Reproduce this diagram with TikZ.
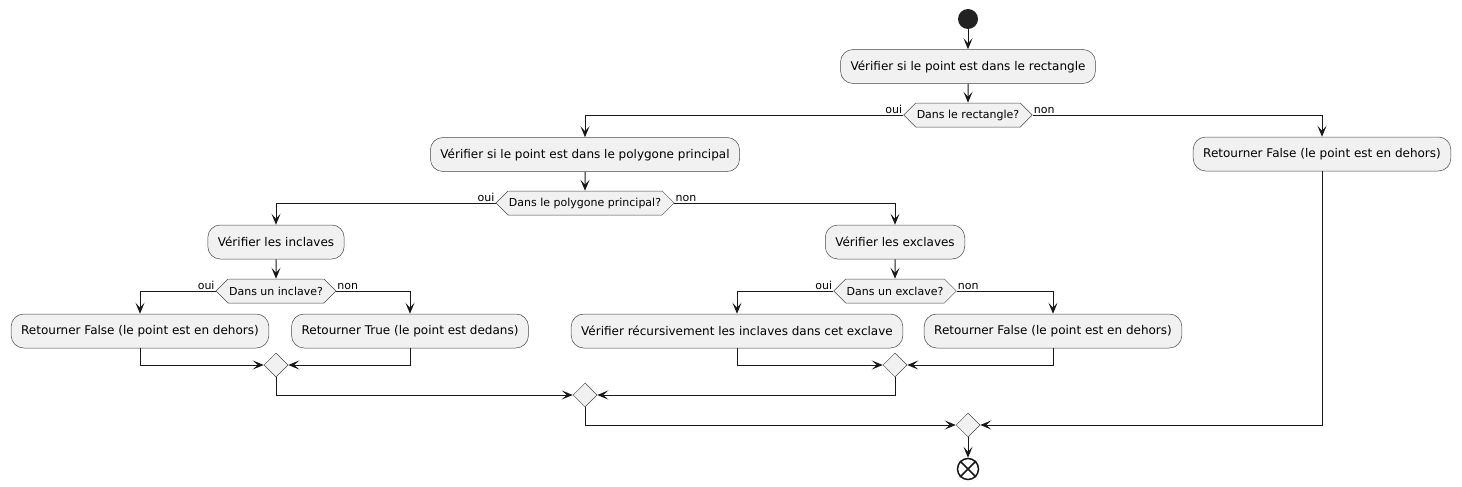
\documentclass[tikz,border=0pt]{standalone}
\usepackage{fontspec}
\setmainfont{DejaVu Sans}
\usetikzlibrary{arrows.meta,shapes.geometric,shapes.symbols}
\definecolor{pline}{HTML}{181818}
\definecolor{pfill}{HTML}{F1F1F1}
\definecolor{pdot}{HTML}{222222}
\begin{document}
\begin{tikzpicture}[x=1pt,y=-1pt,>={Stealth[length=11pt,width=9pt,inset=5pt]},
  action/.style={draw=pline!80,line width=0.5pt,fill=pfill,rounded corners=12.5pt,minimum height=34pt,inner xsep=10pt,font=\fontsize{12}{14}\selectfont},
  decision/.style={draw=pline!80,line width=0.5pt,fill=pfill,signal,signal to=west and east,signal pointer angle=90,minimum height=24pt,inner xsep=1pt,inner ysep=0pt,font=\fontsize{11}{13}\selectfont},
  merge/.style={draw=pline!80,line width=0.5pt,fill=pfill,diamond,minimum size=24pt,inner sep=0pt},
  flow/.style={->,draw=pline,line width=1pt},
  ouilbl/.style={label={[anchor=south east,inner sep=1pt,font=\fontsize{11}{13}\selectfont]west:oui}},
  nonlbl/.style={label={[anchor=south west,inner sep=1pt,font=\fontsize{11}{13}\selectfont]east:non}}]
\useasboundingbox (0,0) rectangle (1462,487);
\node[circle,fill=pdot,minimum size=20pt,inner sep=0pt] (start) at (968,19) {};
\node[action] (rect) at (968,66.5) {Vérifier si le point est dans le rectangle};
\node[decision,ouilbl,nonlbl] (inrect) at (968,115) {Dans le rectangle?};
\node[action] (poly) at (585,154.5) {Vérifier si le point est dans le polygone principal};
\node[action] (out1) at (1322,154) {Retourner False (le point est en dehors)};
\node[decision,ouilbl,nonlbl] (inpoly) at (585,203) {Dans le polygone principal?};
\node[action] (incl) at (276,242) {Vérifier les inclaves};
\node[action] (excl) at (895,242) {Vérifier les exclaves};
\node[decision,ouilbl,nonlbl] (ininc) at (276,291) {Dans un inclave?};
\node[decision,ouilbl,nonlbl] (inexc) at (895,291) {Dans un exclave?};
\node[action] (out2) at (140,331) {Retourner False (le point est en dehors)};
\node[action] (in1) at (410,331) {Retourner True (le point est dedans)};
\node[action] (recu) at (737,331) {Vérifier récursivement les inclaves dans cet exclave};
\node[action] (out3) at (1053,331) {Retourner False (le point est en dehors)};
\node[merge] (mrginc) at (276,365) {};
\node[merge] (mrgexc) at (895,365) {};
\node[merge] (mrgpoly) at (585,395) {};
\node[merge] (mrgrect) at (968,425) {};
\node[circle,draw=pline,line width=1.5pt,minimum size=21pt,inner sep=0pt] (stop) at (968,469) {};
\draw[pline,line width=1.5pt] (stop.north west)--(stop.south east) (stop.north east)--(stop.south west);
\draw[flow] (start)--(rect);
\draw[flow] (rect)--(inrect);
\draw[flow] (inrect.west)-|(poly.north);
\draw[flow] (inrect.east)-|(out1.north);
\draw[flow] (poly)--(inpoly);
\draw[flow] (inpoly.west)-|(incl.north);
\draw[flow] (inpoly.east)-|(excl.north);
\draw[flow] (incl)--(ininc);
\draw[flow] (excl)--(inexc);
\draw[flow] (ininc.west)-|(out2.north);
\draw[flow] (ininc.east)-|(in1.north);
\draw[flow] (inexc.west)-|(recu.north);
\draw[flow] (inexc.east)-|(out3.north);
\draw[flow] (out2.south)|-(mrginc.west);
\draw[flow] (in1.south)|-(mrginc.east);
\draw[flow] (recu.south)|-(mrgexc.west);
\draw[flow] (out3.south)|-(mrgexc.east);
\draw[flow] (mrginc.south)|-(mrgpoly.west);
\draw[flow] (mrgexc.south)|-(mrgpoly.east);
\draw[flow] (mrgpoly.south)|-(mrgrect.west);
\draw[flow] (out1.south)|-(mrgrect.east);
\draw[flow] (mrgrect)--(stop);
\end{tikzpicture}
\end{document}
